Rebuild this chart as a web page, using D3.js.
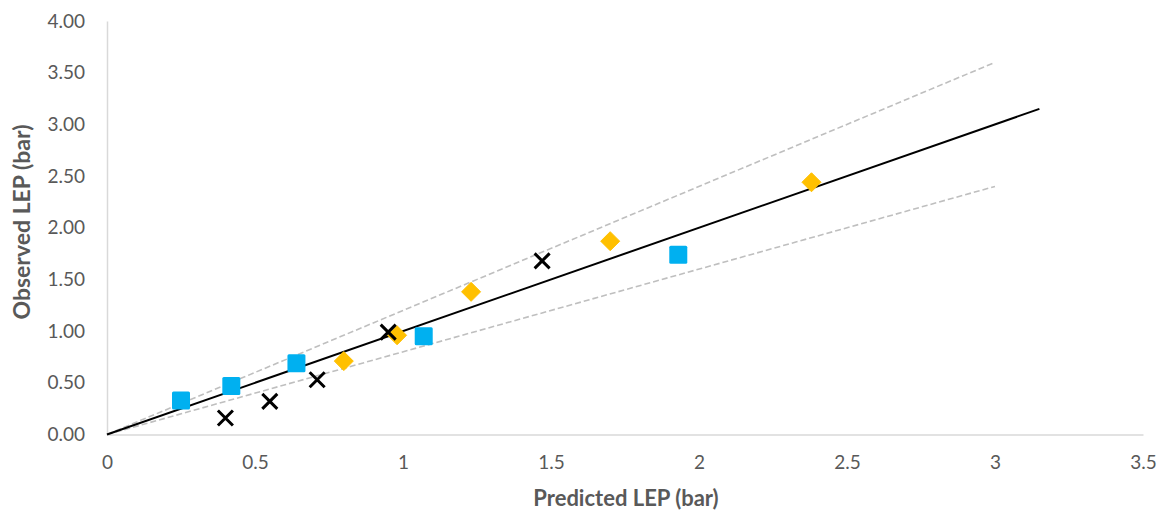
<!DOCTYPE html>
<html>
<head>
<meta charset="utf-8">
<script src="https://cdn.jsdelivr.net/npm/d3@7"></script>
<style>
  html, body { margin: 0; padding: 0; background: #fff; }
  svg { display: block; font-family: Lato, "Open Sans", sans-serif; }
</style>
</head>
<body>
<svg id="chart" width="1166" height="513"></svg>
<script>
// Observed vs predicted LEP, three data sets
const squaresX = [0.25, 0.42, 0.64, 1.07, 1.93];
const squaresY = [0.33, 0.47, 0.69, 0.95, 1.74];

const crossesX = [0.40, 0.55, 0.71, 0.95, 1.47];
const crossesY = [0.16, 0.32, 0.53, 0.99, 1.68];

const diamondsX = [0.80, 0.98, 1.23, 1.70, 2.38];
const diamondsY = [0.71, 0.96, 1.38, 1.87, 2.44];

// Reference lines: 1:1 line and ±20 % bounds
const parityX = [0, 3.15];
const parityY = [0, 3.15];
const upperX = [0, 3.0];
const upperY = [0, 3.6];
const lowerX = [0, 3.0];
const lowerY = [0, 2.4];

const xTicks = [0, 0.5, 1, 1.5, 2, 2.5, 3, 3.5];
const yTicks = [0, 0.5, 1, 1.5, 2, 2.5, 3, 3.5, 4];
const xTitle = "Predicted LEP (bar)";
const yTitle = "Observed LEP (bar)";

const svg = d3.select("#chart");
const margin = { left: 107, right: 23, top: 21, bottom: 78.5 };
const W = 1166, H = 513;

const x = d3.scaleLinear().domain([0, 3.5]).range([margin.left, W - margin.right]);
const y = d3.scaleLinear().domain([0, 4]).range([H - margin.bottom, margin.top]);

const textColor = "#595959";
const axisColor = "#D9D9D9";

// Axes
const xAxis = svg.append("g")
  .attr("transform", `translate(0,${y(0)})`)
  .call(d3.axisBottom(x).tickValues(xTicks).tickSize(0).tickPadding(21)
    .tickFormat(d => String(d)));
const yAxis = svg.append("g")
  .attr("transform", `translate(${x(0)},0)`)
  .call(d3.axisLeft(y).tickValues(yTicks).tickSize(0).tickPadding(22)
    .tickFormat(d3.format(".2f")));

[xAxis, yAxis].forEach(g => {
  g.select(".domain").attr("stroke", axisColor).attr("stroke-width", 1.5);
  g.selectAll("text").attr("fill", textColor).attr("font-size", 19)
    .attr("font-family", "Lato, 'Open Sans', sans-serif");
});

// Axis titles
svg.append("text")
  .attr("x", (x(0) + x(3.5)) / 2 + 1).attr("y", 506)
  .attr("text-anchor", "middle")
  .attr("fill", textColor).attr("font-size", 22).attr("font-weight", "bold")
  .text(xTitle);
svg.append("text")
  .attr("transform", `translate(30,222) rotate(-90)`)
  .attr("text-anchor", "middle")
  .attr("fill", textColor).attr("font-size", 23).attr("font-weight", "bold")
  .text(yTitle);

const line = d3.line().x(d => x(d[0])).y(d => y(d[1]));
const pairs = (xs, ys) => xs.map((v, i) => [v, ys[i]]);

// Bounds (dashed)
[[upperX, upperY], [lowerX, lowerY]].forEach(([xs, ys]) => {
  svg.append("path")
    .datum(pairs(xs, ys))
    .attr("d", line)
    .attr("fill", "none")
    .attr("stroke", "#BFBFBF")
    .attr("stroke-width", 1.6)
    .attr("stroke-dasharray", "6,3");
});

// Parity line
svg.append("path")
  .datum(pairs(parityX, parityY))
  .attr("d", line)
  .attr("fill", "none")
  .attr("stroke", "#000")
  .attr("stroke-width", 2);

// Diamonds
svg.append("g").selectAll("path")
  .data(pairs(diamondsX, diamondsY))
  .join("path")
  .attr("d", "M0,-9.5 L9.5,0 L0,9.5 L-9.5,0 Z")
  .attr("transform", d => `translate(${x(d[0])},${y(d[1])})`)
  .attr("fill", "#FFC000")
  .attr("stroke", "#FFC000").attr("stroke-width", 1).attr("stroke-linejoin", "round");

// Squares
svg.append("g").selectAll("rect")
  .data(pairs(squaresX, squaresY))
  .join("rect")
  .attr("x", d => x(d[0]) - 9).attr("y", d => y(d[1]) - 9)
  .attr("width", 18).attr("height", 18)
  .attr("rx", 1.5)
  .attr("fill", "#00B0F0");

// Crosses
svg.append("g").selectAll("path")
  .data(pairs(crossesX, crossesY))
  .join("path")
  .attr("d", "M-7.5,-7.5 L7.5,7.5 M-7.5,7.5 L7.5,-7.5")
  .attr("transform", d => `translate(${x(d[0])},${y(d[1])})`)
  .attr("fill", "none")
  .attr("stroke", "#000")
  .attr("stroke-width", 3);
</script>
</body>
</html>
